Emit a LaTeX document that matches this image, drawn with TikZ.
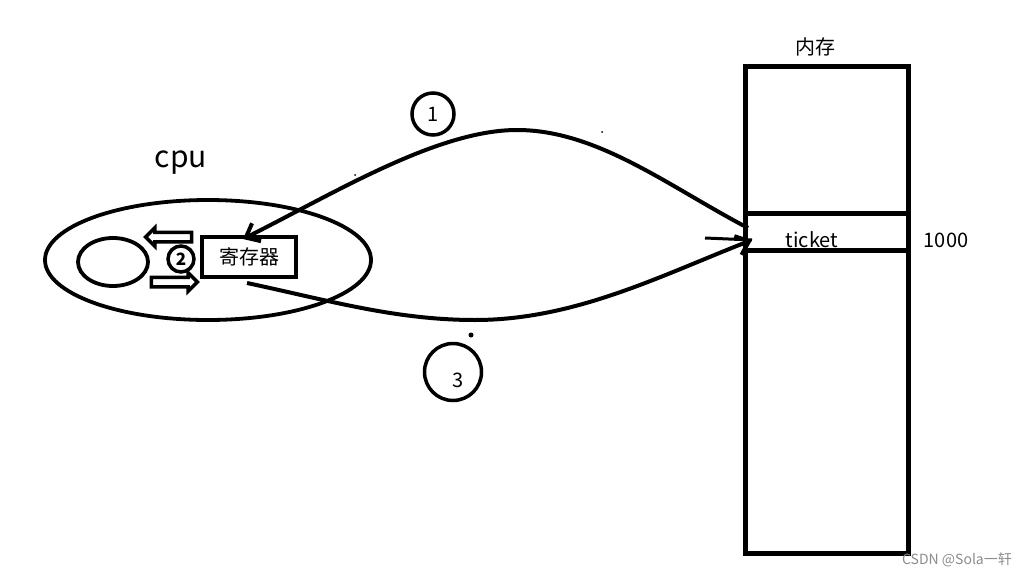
\documentclass[tikz,border=0pt]{standalone}
\usepackage{fontspec}
\setmainfont{Noto Sans CJK SC}
\usetikzlibrary{shapes.geometric,shapes.arrows,arrows.meta}
\tikzset{
    pen/.style={line width=4pt},
    wall/.style={line width=5pt},
    txt/.style={font=\fontsize{20}{20}\selectfont},
    numring/.style={draw, circle, line width=3.5pt, inner sep=0pt},
    fatarrow/.style={draw, single arrow, line width=3.5pt, inner sep=3pt,
        single arrow head extend=4.5pt, minimum height=46pt},
    barb/.style={-{Straight Barb[length=12pt,width=20pt]}},
}

\begin{document}
\begin{tikzpicture}[x=1pt,y=-1pt]
\useasboundingbox (0,0) rectangle (1033,578);
\draw[wall] (745,67) rectangle (908,553);
\draw[wall] (745,213) -- (908,213);
\draw[wall] (745,250) -- (908,250);
\node[txt] (memname) at (815,47) {内存};
\node[txt] (ticket) at (812,240) {ticket};
\node[txt] (value) at (946,240) {1000};
\coordinate (slotout) at (748,228);
\coordinate (slotin) at (752,240);
\coordinate (slotleft) at (705,238);
\node[draw, ellipse, line width=3.8pt, minimum width=326, minimum height=120] (cpu) at (208,260) {};
\node[font=\fontsize{30}{30}\selectfont] (cpuname) at (181,163) {cpu};
\node[draw, ellipse, line width=3.8pt, minimum width=70, minimum height=48] (core) at (113,262) {};
\node[draw, txt, line width=4pt, minimum width=94, minimum height=40] (reg) at (249,257) {寄存器};
\coordinate (regtop) at (243,239);
\coordinate (regbot) at (247,283);
\node[numring, minimum size=26, font=\bfseries\fontsize{17}{17}\selectfont] (two) at (181,259) {2};
\node[fatarrow, shape border rotate=180] (load) at (171,237) {};
\node[fatarrow] (store) at (172,282) {};
\node[numring, txt, minimum size=42] (one) at (433,114) {1};
\node[numring, minimum size=57] (three) at (453,372) {};
\node[txt] (threetext) at (458,380) {3};
\draw[pen, barb] (slotout) .. controls (668,186) and (597,130) .. (517,130)
    .. controls (437,130) and (333,194) .. (regtop);
\draw[pen, barb] (regbot) .. controls (327,300) and (395,320) .. (475,320)
    .. controls (575,320) and (662,275) .. (slotin);
\draw[line width=3pt] (slotleft) -- (slotin);
\fill (602,132) circle (1);
\fill (355,175) circle (1);
\fill (471,335) circle (2.5);
\node[font=\fontsize{14}{14}\selectfont, text=black!45] (mark) at (957,560) {CSDN @Sola一轩};
\end{tikzpicture}
\end{document}
